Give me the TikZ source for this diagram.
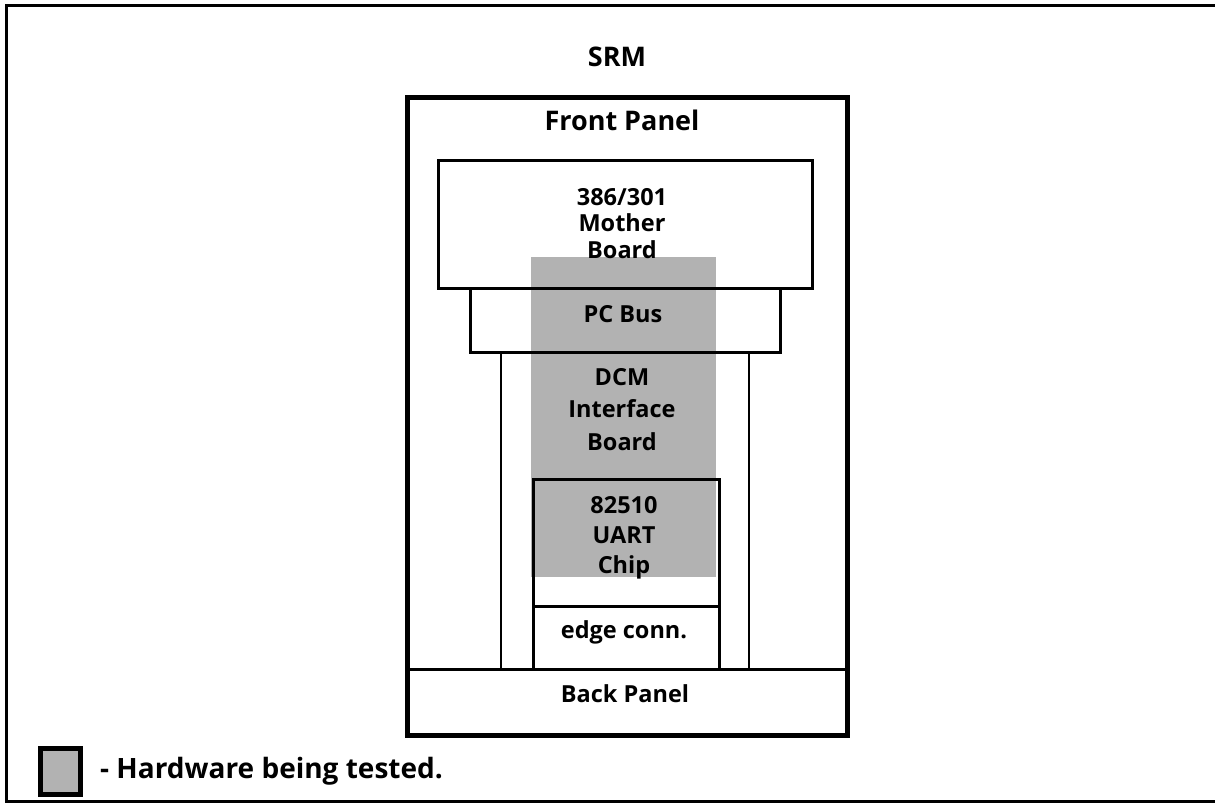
\documentclass[tikz,border=0pt]{standalone}
\usepackage{fontspec}
\setmainfont{Open Sans}
\begin{document}
\begin{tikzpicture}[x=1pt,y=-1pt,line join=miter,
  box/.style={draw, line width=2.6pt, inner sep=0pt, anchor=north west},
  heavybox/.style={box, line width=4.5pt},
  lbl/.style={font=\bfseries\fontsize{23.5}{26.5}\selectfont, align=center, inner sep=0pt, anchor=base},
  biglbl/.style={lbl, font=\bfseries\fontsize{27}{30}\selectfont},
  tested/.style={fill=black!30},
  wire/.style={line width=2.6pt}]
\useasboundingbox (0,0) rectangle (1215,803);
\fill[white] (0,0) rectangle (1215,803);
% outer frame
\coordinate (ftr) at (1215,5);
\coordinate (ftl) at (6,5);
\coordinate (fbl) at (6,801);
\coordinate (fbr) at (1215,801);
\draw[line width=3pt] (ftr) -- (ftl) -- (fbl) -- (fbr);
% shaded region (hardware being tested)
\node[tested, inner sep=0pt, anchor=north west, minimum width=185, minimum height=320] (hw) at (531,257) {};
% boxes
\node[heavybox, minimum width=440, minimum height=638] (srm) at (405,95) {};
\node[box, minimum width=374, minimum height=128] (mb) at (437,159) {};
\node[box, minimum width=310, minimum height=64] (bus) at (469,287) {};
\node[box, minimum width=186, minimum height=127] (uart) at (532,478) {};
\node[box, minimum width=186, minimum height=63] (edge) at (532,605) {};
\node[box, minimum width=440, minimum height=65] (back) at (405,668) {};
% DCM board sides
\coordinate (dlt) at (501,351);
\coordinate (dlb) at (501,668);
\coordinate (drt) at (749,351);
\coordinate (drb) at (749,668);
\draw[wire] (dlt) -- (dlb);
\draw[wire] (drt) -- (drb);
% labels
\node[biglbl] (srmt) at (617,66) {SRM};
\node[biglbl] (fpt) at (622,130) {Front Panel};
\node[lbl] (mbt) at (622,258) {386/301\\Mother\\Board};
\node[lbl] (bust) at (623,322) {PC Bus};
\node[lbl, font=\bfseries\fontsize{23.5}{32.5}\selectfont] (dcmt) at (622,450) {DCM\\Interface\\Board};
\node[lbl, font=\bfseries\fontsize{23.5}{30}\selectfont] (uartt) at (624,573) {82510\\UART\\Chip};
\node[lbl] (edget) at (624,638) {edge conn.};
\node[lbl] (backt) at (625,702) {Back Panel};
% legend
\node[heavybox, fill=black!30, minimum width=40, minimum height=46] (key) at (38,746) {};
\node[font=\bfseries\fontsize{28}{32}\selectfont, inner sep=0pt, anchor=base west] (keyt) at (100,778) {- Hardware being tested.};
\end{tikzpicture}
\end{document}
